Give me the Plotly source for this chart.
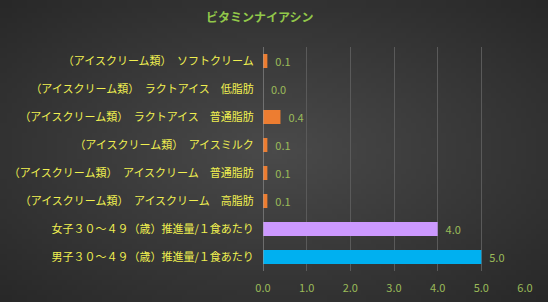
import plotly.graph_objects as go
import zlib, struct, base64, math

categories = [
    "（アイスクリーム類）　ソフトクリーム",
    "（アイスクリーム類）　ラクトアイス　低脂肪",
    "（アイスクリーム類）　ラクトアイス　普通脂肪",
    "（アイスクリーム類）　アイスミルク",
    "（アイスクリーム類）　アイスクリーム　普通脂肪",
    "（アイスクリーム類）　アイスクリーム　高脂肪",
    "女子３０～４９（歳）推進量/１食あたり",
    "男子３０～４９（歳）推進量/１食あたり",
]
values = [0.1, 0.0, 0.4, 0.1, 0.1, 0.1, 4.0, 5.0]
bar_colors = ["#ed7d31"] * 6 + ["#cc99ff", "#00b0f0"]
x_ticks = [0, 1, 2, 3, 4, 5, 6]
title_text = "ビタミンナイアシン"

font_family = "Noto Sans CJK JP, Noto Sans, sans-serif"


def radial_png(w, h, inner=74, outer=40):
    rows = b""
    for j in range(h):
        row = b"\x00"
        for i in range(w):
            dx = (i / (w - 1) - 0.5) * 2
            dy = (j / (h - 1) - 0.5) * 2
            d = min(1.0, math.sqrt(dx * dx + dy * dy) / math.sqrt(2))
            v = int(round(inner + (outer - inner) * d))
            row += bytes([v, v, v])
        rows += row
    def chunk(t, data):
        c = struct.pack(">I", len(data)) + t + data
        return c + struct.pack(">I", zlib.crc32(t + data) & 0xffffffff)
    png = b"\x89PNG\r\n\x1a\n"
    png += chunk(b"IHDR", struct.pack(">IIBBBBB", w, h, 8, 2, 0, 0, 0))
    png += chunk(b"IDAT", zlib.compress(rows))
    png += chunk(b"IEND", b"")
    return "data:image/png;base64," + base64.b64encode(png).decode()


fig = go.Figure(go.Bar(
    x=values,
    y=categories,
    orientation="h",
    width=0.5,
    marker=dict(color=bar_colors, line=dict(width=0)),
    text=["  " + f"{v:.1f}" for v in values],
    textposition="outside",
    constraintext="none",
    cliponaxis=False,
    textfont=dict(color="#9bbb59", size=11, family=font_family),
))

fig.update_layout(
    width=548, height=302,
    margin=dict(l=263, r=23, t=47, b=31, autoexpand=False),
    paper_bgcolor="#3c3c3c",
    plot_bgcolor="rgba(0,0,0,0)",
    showlegend=False,
    title=dict(text="<b>" + title_text + "</b>", x=0.474, xanchor="center", y=0.94, yanchor="middle",
               font=dict(color="#92c84a", size=12, family=font_family)),
    xaxis=dict(range=[0, 6], tickvals=x_ticks, tickformat=".1f",
               showgrid=True, gridcolor="#5a5a5a", gridwidth=1,
               zeroline=False, showline=False, automargin=False,
               ticks="outside", ticklen=7, tickcolor="rgba(0,0,0,0)",
               tickfont=dict(color="#9bbb59", size=11, family=font_family),
               fixedrange=True),
    yaxis=dict(autorange="reversed", showgrid=False, zeroline=False,
               showline=False, automargin=False,
               ticks="outside", ticklen=6, tickcolor="rgba(0,0,0,0)",
               tickfont=dict(color="#f0f050", size=11, family=font_family)),
    bargap=0.5,
    images=[dict(source=radial_png(110, 60), xref="paper", yref="paper",
                 x=-263 / 262, y=1 + 47 / 224, sizex=548 / 262, sizey=302 / 224,
                 xanchor="left", yanchor="top", sizing="stretch", layer="below")],
)
fig.add_shape(type="line", xref="x", yref="paper", x0=0, x1=0, y0=0, y1=1,
              line=dict(color="#a0a0a0", width=1))

fig.write_html("out.html")
